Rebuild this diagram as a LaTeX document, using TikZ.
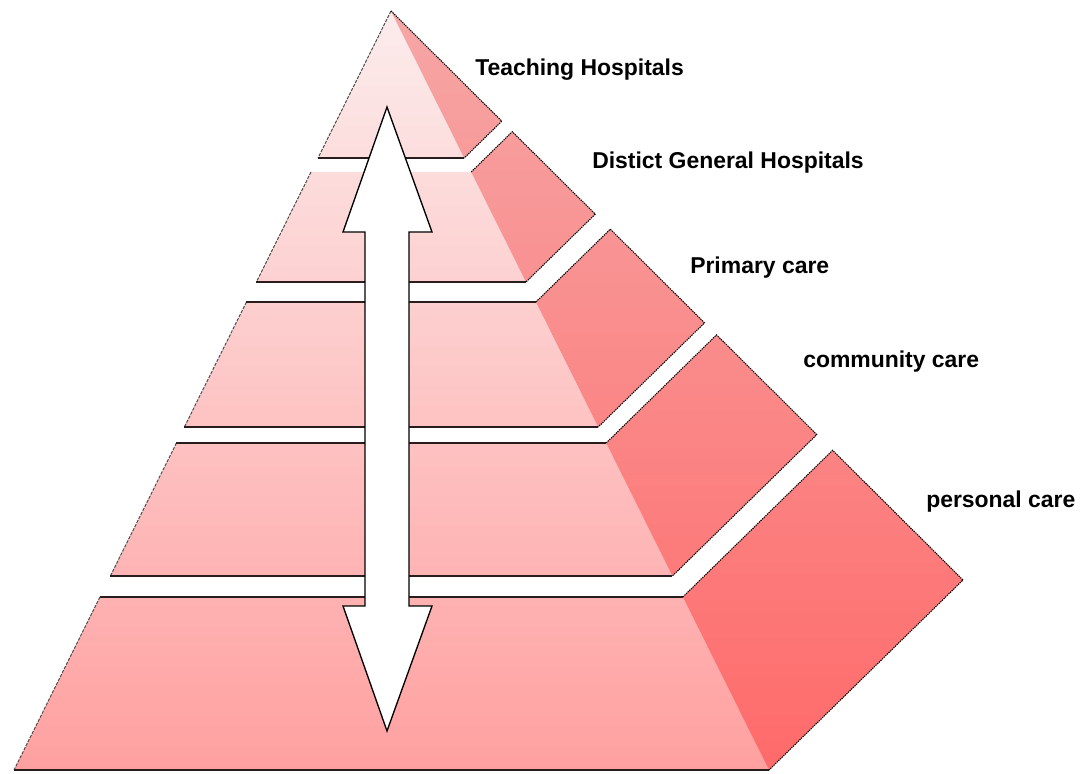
\documentclass[tikz,border=0pt]{standalone}
\usepackage{fontspec}
\setmainfont{Liberation Sans}
\usetikzlibrary{calc}

\definecolor{frontTop}{RGB}{252,236,236}
\definecolor{frontBot}{RGB}{255,160,160}
\definecolor{sideTop}{RGB}{246,166,166}
\definecolor{sideBot}{RGB}{255,106,106}
\definecolor{edgeDark}{RGB}{40,28,28}

\tikzset{
  rim/.style={draw=edgeDark, line width=1.1pt},
  slant/.style={draw=black!70, line width=0.75pt, dash pattern=on 2.4pt off 1pt},
  sideline/.style={draw=black, line width=0.8pt, dash pattern=on 1pt off 0.7pt},
  tierlabel/.style={font=\fontsize{17.2}{20}\selectfont\bfseries, anchor=base west, inner sep=0pt},
  bigarrow/.style={fill=white, draw=black, line width=1pt, line join=miter},
}

% One layer of the pyramid: #1 top fraction, #2 bottom fraction (apex = 0, base = 1),
% #3 = 1 to draw the rim along the top of the front face
\newcommand{\pyrtier}[3]{%
  \begin{scope}
    \clip ($(A)!#1!(BL)$) -- ($(A)!#1!(BR)$) -- ($(A)!#2!(BR)$) -- ($(A)!#2!(BL)$) -- cycle;
    \shade[top color=frontTop, bottom color=frontBot] (0,11) rectangle (1082,770);
  \end{scope}
  \begin{scope}
    \clip ($(A)!#1!(BR)$) -- ($(A)!#1!(BB)$) -- ($(A)!#2!(BB)$) -- ($(A)!#2!(BR)$) -- cycle;
    \shade[top color=sideTop, bottom color=sideBot] (0,11) rectangle (1082,770);
  \end{scope}
  \draw[slant] ($(A)!#1!(BL)$) -- ($(A)!#2!(BL)$);
  \ifnum#3=1 \draw[rim] ($(A)!#1!(BL)$) -- ($(A)!#1!(BR)$);\fi
  \draw[rim] ($(A)!#2!(BL)$) -- ($(A)!#2!(BR)$);
  \draw[sideline] ($(A)!#1!(BR)$) -- ($(A)!#1!(BB)$) -- ($(A)!#2!(BB)$) -- ($(A)!#2!(BR)$);
}

\begin{document}
\begin{tikzpicture}[x=0.75pt, y=-0.75pt]
  \useasboundingbox (0,0) rectangle (1082,774);

  % pyramid corners: apex, front left, front right, back right
  \coordinate (A)  at (391,11);
  \coordinate (BL) at (14,770);
  \coordinate (BR) at (769,770);
  \coordinate (BB) at (963,580);

  % layers, top to bottom
  \pyrtier{0}{0.19368}{0}
  \pyrtier{0.21212}{0.35705}{0}
  \pyrtier{0.38340}{0.54809}{1}
  \pyrtier{0.56917}{0.74440}{1}
  \pyrtier{0.77207}{1}{1}

  % double-headed vertical arrow
  \draw[bigarrow] (387,107) -- (432,232) -- (409,232) -- (409,606) -- (432,606)
    -- (387,731) -- (343,606) -- (365,606) -- (365,232) -- (343,232) -- cycle;

  % layer names
  \node[tierlabel] (lblTeach)     at (475,75)  {Teaching Hospitals};
  \node[tierlabel] (lblDistrict)  at (592,168) {Distict General Hospitals};
  \node[tierlabel] (lblPrimary)   at (690,273) {Primary care};
  \node[tierlabel] (lblCommunity) at (803,367) {community care};
  \node[tierlabel] (lblPersonal)  at (926,507) {personal care};
\end{tikzpicture}
\end{document}
